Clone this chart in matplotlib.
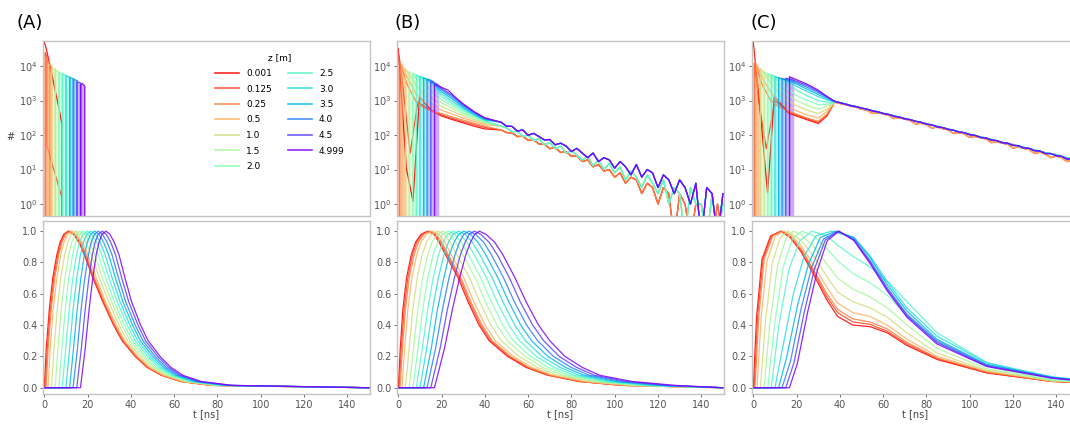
import numpy as np
import matplotlib
matplotlib.use('Agg')
import matplotlib.pyplot as plt
from matplotlib.lines import Line2D
from matplotlib.ticker import NullLocator

# detector positions and the time the front reaches them
z_m = [0.001, 0.125, 0.25, 0.5, 1.0, 1.5, 2.0, 2.5, 3.0, 3.5, 4.0, 4.5, 4.999]
onset_ns = [0.0, 0.4, 0.8, 1.7, 3.3, 5.0, 6.7, 8.3, 10.0, 11.7, 13.3, 15.0, 16.7]

# ---- lower panels A and B: time (ns) where each pulse passes these levels
levels = [0, 0.25, 0.5, 0.7, 0.85, 0.93, 0.98, 1.0, 0.98, 0.93, 0.85,
          0.7, 0.55, 0.4, 0.3, 0.2, 0.13, 0.08, 0.04, 0.015, 0.0]
a_low_t = [
    [0, 0.9, 2.3, 3.9, 5.8, 7.3, 9.0, 11, 13.5, 16, 18.5, 22.5, 27, 32, 36, 42, 47.5, 54, 63, 77, 150],
    [0.4, 1.4, 2.8, 4.4, 6.3, 7.8, 9.4, 11.4, 13.9, 16.4, 18.9, 22.9, 27.3, 32.3, 36.3, 42.3, 47.8, 54.3, 63.2, 77.3, 150],
    [0.8, 1.8, 3.2, 4.8, 6.7, 8.2, 9.9, 11.9, 14.3, 16.8, 19.3, 23.2, 27.7, 32.6, 36.6, 42.6, 48.1, 54.5, 63.5, 77.5, 150],
    [1.7, 2.7, 4.1, 5.8, 7.6, 9.1, 10.8, 12.8, 15.2, 17.6, 20.1, 24.0, 28.3, 33.3, 37.2, 43.2, 48.6, 55, 64, 78, 150],
    [3.3, 4.5, 6.0, 7.6, 9.4, 10.9, 12.5, 14.5, 16.9, 19.3, 21.7, 25.5, 29.7, 34.5, 38.4, 44.3, 49.7, 56, 64.9, 79, 150],
    [5.0, 6.3, 7.8, 9.5, 11.3, 12.7, 14.3, 16.3, 18.5, 20.9, 23.3, 26.9, 31.0, 35.8, 39.6, 45.5, 50.8, 57, 65.9, 80, 150],
    [6.7, 8.1, 9.7, 11.3, 13.1, 14.5, 16.1, 18.0, 20.2, 22.5, 24.9, 28.4, 32.3, 37.0, 40.8, 46.6, 51.9, 58, 66.8, 81, 150],
    [8.3, 9.9, 11.5, 13.2, 14.9, 16.3, 17.9, 19.8, 21.9, 24.2, 26.5, 29.9, 33.7, 38.3, 42, 47.8, 53, 59, 67.8, 82, 150],
    [10.0, 11.7, 13.3, 15.0, 16.7, 18.1, 19.6, 21.5, 23.6, 25.8, 28.1, 31.4, 35.0, 39.5, 43.2, 48.9, 54.1, 60, 68.7, 83, 150],
    [11.7, 13.5, 15.2, 16.9, 18.5, 19.9, 21.4, 23.3, 25.3, 27.4, 29.7, 32.9, 36.3, 40.8, 44.4, 50.1, 55.2, 61, 69.7, 84, 150],
    [13.3, 15.3, 17.0, 18.7, 20.4, 21.7, 23.2, 25.0, 26.9, 29.0, 31.3, 34.3, 37.6, 42.0, 45.6, 51.2, 56.3, 62, 70.6, 85, 150],
    [15.0, 17.1, 18.9, 20.6, 22.2, 23.5, 24.9, 26.8, 28.6, 30.7, 32.9, 35.8, 39.0, 43.3, 46.8, 52.4, 57.4, 63, 71.6, 86, 150],
    [16.7, 18.9, 20.7, 22.4, 24, 25.3, 26.7, 28.5, 30.3, 32.3, 34.5, 37.3, 40.3, 44.5, 48, 53.5, 58.5, 64, 72.5, 87, 150],
]
b_low_t = [
    [0, 0.9, 2.1, 3.8, 6.0, 8.0, 10.5, 13.5, 16.5, 18.8, 21.8, 27.7, 32.2, 37.3, 42, 50.5, 59, 69, 83.5, 103, 150],
    [0.4, 1.4, 2.7, 4.4, 6.6, 8.6, 11.1, 14.1, 17.1, 19.4, 22.5, 28.4, 32.9, 38.0, 42.7, 51.2, 59.7, 69.6, 84.1, 103.6, 150],
    [0.8, 1.9, 3.3, 5.0, 7.3, 9.3, 11.7, 14.7, 17.7, 20.1, 23.1, 29.0, 33.5, 38.7, 43.4, 51.8, 60.3, 70.2, 84.7, 104.3, 150],
    [1.7, 2.9, 4.4, 6.3, 8.5, 10.5, 13.0, 15.9, 18.9, 21.4, 24.5, 30.3, 34.9, 40.1, 44.8, 53.2, 61.6, 71.4, 86.0, 105.5, 150],
    [3.3, 5.0, 6.7, 8.7, 11.0, 13.1, 15.5, 18.3, 21.3, 23.9, 27.1, 33.0, 37.6, 42.8, 47.6, 55.8, 64.2, 73.8, 88.4, 108, 150],
    [5.0, 7.0, 9.0, 11.2, 13.6, 15.6, 17.9, 20.7, 23.7, 26.5, 29.8, 35.6, 40.2, 45.6, 50.4, 58.5, 66.8, 76.2, 90.9, 110.5, 150],
    [6.7, 9.1, 11.3, 13.6, 16.1, 18.2, 20.4, 23.1, 26.1, 29.1, 32.4, 38.2, 42.9, 48.3, 53.2, 61.1, 69.4, 78.6, 93.3, 113, 150],
    [8.3, 11.1, 13.6, 16.1, 18.6, 20.7, 22.9, 25.5, 28.5, 31.7, 35.1, 40.9, 45.6, 51.1, 56, 63.8, 72, 81, 95.8, 115.5, 150],
    [10.0, 13.1, 15.8, 18.5, 21.1, 23.2, 25.4, 27.9, 30.9, 34.2, 37.7, 43.5, 48.3, 53.8, 58.8, 66.4, 74.6, 83.4, 98.2, 118, 150],
    [11.7, 15.2, 18.1, 21.0, 23.6, 25.8, 27.9, 30.3, 33.3, 36.8, 40.4, 46.1, 51.0, 56.6, 61.6, 69.1, 77.2, 85.8, 100.7, 120.5, 150],
    [13.3, 17.2, 20.4, 23.4, 26.2, 28.3, 30.3, 32.7, 35.7, 39.4, 43.0, 48.7, 53.6, 59.3, 64.4, 71.7, 79.8, 88.2, 103.1, 123, 150],
    [15.0, 19.3, 22.7, 25.9, 28.7, 30.9, 32.8, 35.1, 38.1, 41.9, 45.7, 51.4, 56.3, 62.1, 67.2, 74.4, 82.4, 90.6, 105.6, 125.5, 150],
    [16.7, 21.3, 25.0, 28.3, 31.2, 33.4, 35.3, 37.5, 40.5, 44.5, 48.3, 54, 59, 64.8, 70, 77, 85, 93, 108, 128, 150],
]

# ---- lower panel C: explicit points per curve (shoulders on the near ones)
c_low_t = [
    [0, 1.5, 4, 8, 12.7, 17, 22, 28, 34, 39, 46, 54, 62, 71, 85, 108, 138, 150],
    [0.4, 2.0, 4.5, 8.5, 13.0, 17, 22, 28, 34, 39, 46, 54, 62, 71, 85, 108, 138, 150],
    [0.8, 2.5, 5.0, 9.0, 13.3, 17, 22, 28, 34, 39, 46, 54, 62, 71, 85, 108, 138, 150],
    [1.7, 3.6, 6.3, 10.3, 14.2, 17, 22, 28, 34, 39, 46, 54, 62, 71, 85, 108, 138, 150],
    [3.3, 5.6, 8.8, 12.5, 16.0, 22, 28, 34, 39, 46, 54, 62, 71, 85, 108, 138, 150],
    [5.0, 7.6, 11.2, 15.0, 18.5, 22, 28, 34, 39, 46, 54, 62, 71, 85, 108, 138, 150],
    [6.7, 9.8, 13.8, 18.0, 22.5, 28, 34, 39, 46, 54, 62, 71, 85, 108, 138, 150],
    [8.3, 11.8, 16.5, 21.5, 27, 34, 39, 46, 54, 62, 71, 85, 108, 138, 150],
    [10, 13.5, 18.5, 23.5, 29, 36, 46.5, 54.1, 61.8, 71, 84.8, 107.8, 138, 150],
    [11.7, 15.5, 20.5, 25.5, 31, 38, 46.5, 54.1, 61.8, 71, 84.8, 107.8, 138, 150],
    [13.3, 17.2, 22, 27, 32.4, 39, 46.5, 54.1, 61.8, 71, 84.8, 107.8, 138, 150],
    [15, 18.8, 23.5, 28.3, 33.3, 39.3, 46.5, 54.1, 61.8, 71, 84.8, 107.8, 138, 150],
    [16.7, 20.4, 25, 29.6, 34.2, 39.6, 46.5, 54.1, 61.8, 71, 84.8, 107.8, 138, 150],
]
c_low_v = [
    [0, 0.45, 0.82, 0.97, 1.0, 0.96, 0.87, 0.72, 0.56, 0.455, 0.40, 0.39, 0.35, 0.27, 0.18, 0.094, 0.040, 0.032],
    [0, 0.45, 0.82, 0.97, 1.0, 0.97, 0.88, 0.74, 0.58, 0.48, 0.42, 0.405, 0.36, 0.28, 0.185, 0.097, 0.041, 0.033],
    [0, 0.45, 0.82, 0.97, 1.0, 0.97, 0.89, 0.75, 0.60, 0.50, 0.44, 0.42, 0.375, 0.29, 0.19, 0.10, 0.042, 0.034],
    [0, 0.44, 0.81, 0.97, 1.0, 0.98, 0.91, 0.78, 0.64, 0.54, 0.48, 0.455, 0.40, 0.31, 0.20, 0.105, 0.043, 0.035],
    [0, 0.42, 0.80, 0.96, 1.0, 0.94, 0.84, 0.71, 0.61, 0.55, 0.51, 0.45, 0.35, 0.22, 0.11, 0.045, 0.036],
    [0, 0.40, 0.78, 0.95, 1.0, 0.98, 0.90, 0.79, 0.70, 0.63, 0.58, 0.51, 0.40, 0.25, 0.12, 0.047, 0.038],
    [0, 0.40, 0.77, 0.95, 1.0, 0.97, 0.89, 0.81, 0.73, 0.67, 0.59, 0.46, 0.29, 0.135, 0.05, 0.04],
    [0, 0.40, 0.76, 0.94, 1.0, 0.97, 0.91, 0.84, 0.77, 0.68, 0.55, 0.35, 0.16, 0.058, 0.046],
    [0, 0.25, 0.60, 0.84, 0.97, 1.0, 0.96, 0.84, 0.68, 0.51, 0.33, 0.16, 0.07, 0.052],
    [0, 0.20, 0.53, 0.79, 0.96, 1.0, 0.96, 0.83, 0.66, 0.49, 0.31, 0.15, 0.067, 0.05],
    [0, 0.17, 0.50, 0.77, 0.95, 1.0, 0.95, 0.81, 0.64, 0.47, 0.30, 0.145, 0.065, 0.048],
    [0, 0.16, 0.48, 0.76, 0.945, 1.0, 0.945, 0.80, 0.63, 0.46, 0.29, 0.14, 0.063, 0.047],
    [0, 0.157, 0.475, 0.75, 0.94, 1.0, 0.94, 0.79, 0.62, 0.45, 0.28, 0.136, 0.061, 0.045],
]

# ---- upper panels: counts (#) vs t, 0 = empty bin
a_up_t = [
    [0, 1, 3, 5, 7, 8.2, 8.2],
    [0.4, 0.4, 1.2, 1.2, 4, 6, 8.2, 8.2],
    [0.8, 0.8, 2.6, 2.6],
    [1.7, 1.7, 3.5, 3.5],
    [3.3, 3.3, 5.2, 5.2],
    [5.0, 5.0, 6.9, 6.9],
    [6.7, 6.7, 8.6, 8.6],
    [8.3, 8.3, 10.2, 10.2],
    [10.0, 10.0, 11.9, 11.9],
    [11.7, 11.7, 13.6, 13.6],
    [13.3, 13.3, 15.2, 15.2],
    [15.0, 15.0, 16.9, 16.9],
    [16.7, 16.7, 17.6, 18.7, 18.7],
]
a_up_n = [
    [5e4, 3e4, 8e3, 2e3, 500, 200, 0],
    [0, 2.5e4, 1.8e4, 50, 12, 4.5, 1.5, 0],
    [0, 1.6e4, 1.2e4, 0],
    [0, 1.2e4, 9.5e3, 0],
    [0, 9e3, 8e3, 0],
    [0, 7.5e3, 6.8e3, 0],
    [0, 6.5e3, 6e3, 0],
    [0, 5.8e3, 5.4e3, 0],
    [0, 5.2e3, 4.8e3, 0],
    [0, 4.6e3, 4.3e3, 0],
    [0, 4.1e3, 3.8e3, 0],
    [0, 3.5e3, 3.2e3, 0],
    [0, 2.9e3, 3.1e3, 2.6e3, 0],
]

b_up_t = [
    [0, 3.7, 6.8, 9.8, 15.2, 20, 25, 30, 35, 40],
    [0.4, 0.4, 3, 5.5, 9, 14, 20, 25, 30, 35, 40],
    [0.8, 0.8, 4, 8.2, 12, 16, 20, 25, 30, 35, 40],
    [1.7, 1.7, 4, 8, 12, 16, 20, 25, 30, 35, 40],
    [3.3, 3.3, 6, 10, 15, 20, 25, 30, 35, 40],
    [5.0, 5.0, 8, 12, 16, 20, 25, 30, 35, 40],
    [6.7, 6.7, 10, 14, 20, 25, 30, 35, 40],
    [8.3, 8.3, 12, 16, 20, 25, 30, 35, 40],
    [10, 10, 13, 17, 20, 25, 30, 35, 40],
    [11.7, 11.7, 15, 20, 25, 30, 35, 40],
    [13.3, 13.3, 16, 20, 25, 30, 35, 40],
    [15, 15, 18, 20, 25, 30, 35, 40],
    [16.7, 16.7, 20, 23, 26, 30, 35, 40],
]
b_up_n = [
    [3.2e4, 11, 1.2, 1260, 525, 355, 280, 225, 180, 150],
    [0, 2e4, 800, 30, 900, 560, 380, 300, 245, 200, 165],
    [0, 1.3e4, 3000, 930, 600, 470, 420, 330, 270, 220, 180],
    [0, 1.1e4, 5000, 1600, 900, 650, 520, 400, 310, 250, 200],
    [0, 8.5e3, 4500, 2000, 1000, 680, 490, 360, 280, 215],
    [0, 7e3, 4500, 2500, 1400, 850, 590, 410, 310, 230],
    [0, 6.2e3, 4500, 2800, 1050, 700, 460, 335, 245],
    [0, 5.5e3, 4200, 2800, 1300, 820, 520, 360, 260],
    [0, 5e3, 4200, 2600, 1550, 950, 580, 385, 270],
    [0, 4.5e3, 3.9e3, 1800, 1100, 640, 410, 285],
    [0, 4e3, 3.6e3, 2050, 1250, 700, 440, 295],
    [0, 3.5e3, 3.0e3, 2250, 1400, 760, 460, 305],
    [0, 2.9e3, 2.4e3, 2.0e3, 1.3e3, 800, 480, 316],
]
b_tail_t = [47.5, 50, 52.5, 55, 57.5, 60, 62.5, 65, 67.5, 70, 72.5, 75, 77.5, 80,
            82.5, 85, 87.5, 90, 92.5, 95, 97.5, 100, 102.5, 105, 107.5, 110, 112.5,
            115, 117.5, 120, 122.5, 125, 127.5, 130, 132.5, 135, 137.5, 140, 142.5,
            145, 147.5, 150]
b_tail_hi = [235, 180, 178, 130, 140, 98, 112, 90, 72, 74, 52, 58, 48, 33, 41, 30, 22,
             30, 17, 22, 19, 11, 17, 12, 7, 14, 6, 10, 8, 3, 7, 5, 2, 5, 3, 1, 4, 0, 3, 2, 0, 2]
b_tail_mid = [180, 160, 125, 128, 92, 100, 70, 78, 52, 60, 40, 48, 30, 36, 26, 19, 24,
              13, 19, 10, 15, 8, 12, 5, 9, 6, 3, 7, 4, 2, 5, 1, 3, 2, 0, 3, 1, 1, 0, 2, 0, 1]
b_tail_lo = [140, 118, 115, 90, 92, 70, 72, 55, 54, 40, 44, 31, 33, 24, 25, 17, 19,
             12, 14, 9, 10, 6, 8, 4, 6, 5, 2, 4, 3, 1, 3, 2, 0, 2, 1, 0, 1, 1, 0, 0, 1, 0]
b_tail_of = ['lo', 'lo', 'lo', 'mid', 'mid', 'mid', 'mid', 'mid',
             'hi', 'hi', 'hi', 'hi', 'hi']

c_up_t = [
    [0, 3.5, 6.6, 9.7, 16.6, 20, 25, 30, 34, 37.5],
    [0.4, 0.4, 3, 6, 10, 16, 20, 25, 30, 34, 37.5],
    [0.8, 0.8, 4, 8, 12, 16, 20, 25, 30, 34, 37.5],
    [1.7, 1.7, 5, 10, 15, 20, 25, 30, 34, 37.5],
    [3.3, 3.3, 7, 12, 16, 20, 25, 30, 34, 37.5],
    [5, 5, 9, 13, 17, 20, 25, 30, 34, 37.5],
    [6.7, 6.7, 10, 14, 20, 25, 30, 34, 37.5],
    [8.3, 8.3, 12, 16, 20, 25, 30, 34, 37.5],
    [10, 10, 14, 20, 25, 30, 34, 37.5],
    [11.7, 11.7, 15, 20, 25, 30, 34, 37.5],
    [13.3, 13.3, 17, 20, 25, 30, 34, 37.5],
    [15, 15, 17, 20, 25, 30, 34, 37.5],
    [16.7, 16.7, 20, 25, 30, 34, 37.5],
]
c_up_n = [
    [5e4, 300, 2.1, 1290, 427, 355, 275, 215, 355, 890],
    [0, 1.2e4, 600, 40, 1000, 460, 380, 290, 230, 370, 880],
    [0, 1.4e4, 3000, 1000, 650, 500, 400, 310, 250, 400, 870],
    [0, 1.1e4, 3500, 1200, 700, 500, 380, 310, 480, 860],
    [0, 8.5e3, 4000, 1600, 1000, 700, 520, 420, 560, 870],
    [0, 7e3, 4000, 2000, 1300, 1000, 720, 560, 670, 880],
    [0, 6.2e3, 4300, 2600, 1400, 1000, 760, 780, 890],
    [0, 5.6e3, 4300, 3000, 2000, 1350, 1000, 900, 900],
    [0, 5e3, 4000, 2600, 1800, 1300, 1050, 910],
    [0, 4.6e3, 4000, 3000, 2100, 1500, 1150, 920],
    [0, 4.3e3, 3900, 3300, 2400, 1700, 1250, 930],
    [0, 4.4e3, 4200, 3600, 2700, 1850, 1300, 940],
    [0, 4.9e3, 4000, 2950, 2000, 1320, 955],
]
c_tail_t = [37.5, 40, 42.5, 45] + b_tail_t
c_tail_hi = [940, 875, 800, 730, 670, 612, 562, 512, 472, 432, 396, 364, 332, 304, 279,
             255, 234, 214, 196, 180, 164, 150, 138, 126, 116, 106, 97, 89, 82, 75, 68,
             62, 57, 53, 48, 44, 41, 37, 34, 31, 29, 27, 24, 22, 20.5, 18.5]
c_tail_mid = [950, 860, 790, 705, 665, 600, 560, 500, 470, 420, 395, 350, 330, 295, 278,
              248, 233, 207, 196, 172, 164, 146, 138, 122, 117, 102, 97, 85, 82, 71, 69,
              60, 58, 50, 49, 42, 41, 35, 34, 29, 29, 25, 24, 20, 21, 17.5]
c_tail_lo = [900, 820, 760, 690, 640, 560, 530, 420, 445, 410, 370, 300, 315, 290, 262,
             210, 220, 200, 160, 170, 152, 142, 110, 118, 108, 85, 91, 84, 77, 60, 64,
             58, 54, 42, 45, 41, 38, 29, 32, 28, 22, 25, 22, 17, 19, 17]
c_tail_of = ['lo', 'lo', 'lo', 'lo', 'hi', 'hi', 'hi', 'hi', 'hi',
             'mid', 'mid', 'mid', 'mid']

FLOOR = 0.1          # empty bins drawn below the log axis
SPIKE = 2.0          # ns width of the shaded block at each onset
LW = 0.9
colors = [plt.cm.rainbow(1 - i / (len(z_m) - 1)) for i in range(len(z_m))]

W, H = 1070, 424
fig = plt.figure(figsize=(W / 100, H / 100), dpi=100)


def box(x0, y0, x1, y1):
    return [x0 / W, 1 - y1 / H, (x1 - x0) / W, (y1 - y0) / H]


lefts = [43, 397, 752]
wid = 327
ups = [fig.add_axes(box(l, 41, l + wid, 216)) for l in lefts]
lows = [fig.add_axes(box(l, 221, l + wid, 394)) for l in lefts]


def style(ax):
    for s in ax.spines.values():
        s.set_color('#c4c4c4')
        s.set_linewidth(1.0)
    ax.tick_params(labelsize=7, colors='#555555', length=2, width=0.6, pad=2)
    ax.set_xlim(-0.6, 150.5)


# upper panels
tails_b = {'hi': b_tail_hi, 'mid': b_tail_mid, 'lo': b_tail_lo}
tails_c = {'hi': c_tail_hi, 'mid': c_tail_mid, 'lo': c_tail_lo}
panels_up = [(a_up_t, a_up_n, None, None, None),
             (b_up_t, b_up_n, b_tail_t, tails_b, b_tail_of),
             (c_up_t, c_up_n, c_tail_t, tails_c, c_tail_of)]
for ax, (ts, ns, tt, tails, which) in zip(ups, panels_up):
    for i in range(len(z_m)):
        t = list(ts[i])
        n = list(ns[i])
        if tt is not None:
            t = t + tt
            n = n + tails[which[i]]
        t = np.array(t, float)
        n = np.maximum(np.array(n, float), FLOOR)
        if i >= 2:
            t0 = onset_ns[i]
            if tt is None:
                ax.fill_between(t, FLOOR, n, color=colors[i], alpha=0.35, lw=0)
            else:
                bx = np.array([t0, t0 + SPIKE])
                ax.fill_between(bx, FLOOR, np.interp(bx, t[1:], n[1:]),
                                color=colors[i], alpha=0.35, lw=0)
        ax.plot(t, n, color=colors[i], lw=LW, alpha=0.9)
    style(ax)
    ax.set_yscale('log')
    ax.set_ylim(0.45, 5.3e4)
    ax.set_yticks([1, 10, 100, 1e3, 1e4])
    ax.yaxis.set_minor_locator(NullLocator())
    ax.tick_params(axis='x', labelbottom=False, length=0)

# lower panels
for ax, ts in zip(lows[:2], [a_low_t, b_low_t]):
    for i in range(len(z_m)):
        ax.plot([0] + ts[i], [0] + levels, color=colors[i], lw=LW, alpha=0.85)
for i in range(len(z_m)):
    lows[2].plot([0] + c_low_t[i], [0] + c_low_v[i], color=colors[i], lw=LW, alpha=0.85)

for ax in lows:
    style(ax)
    ax.set_ylim(-0.04, 1.065)
    ax.set_yticks([0, 0.2, 0.4, 0.6, 0.8, 1.0])
    ax.set_xticks(range(0, 141, 20))
    ax.set_xlabel('t [ns]', fontsize=7, color='#444444', labelpad=0)

# legend
handles = [Line2D([], [], color=colors[i], lw=1.2, alpha=0.85) for i in range(len(z_m))]
ups[0].legend(handles, [str(z) for z in z_m], ncol=2, title='z [m]', fontsize=6.5,
              title_fontsize=6.5, frameon=False, loc='upper center',
              bbox_to_anchor=(0.725, 0.975), handlelength=2.6, columnspacing=1.8,
              labelspacing=0.72, handletextpad=0.8)

fig.text(10 / W, 1 - 137 / H, '#', fontsize=7, color='#444444', ha='center', va='center')
for lab, x in zip(['(A)', '(B)', '(C)'], [16, 395, 751]):
    fig.text(x / W, 1 - 23 / H, lab, fontsize=13, ha='left', va='center')

fig.savefig('out.png', dpi=100)
